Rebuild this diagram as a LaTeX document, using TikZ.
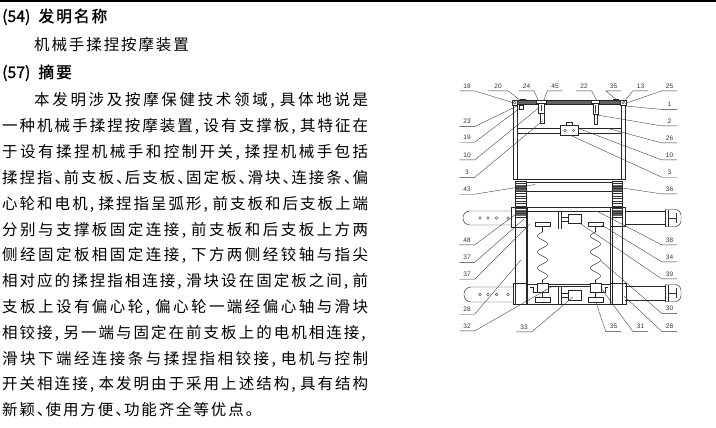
\documentclass[tikz,border=0pt]{standalone}
\usepackage{fontspec}
\newfontfamily\cjk{Noto Sans CJK SC}
\newfontfamily\cjkh[FakeBold=1.2]{Noto Sans CJK SC}
\setsansfont{Liberation Sans}
\def\spreadtxt#1{\spreadaux#1\relax}
\def\spreadaux#1{\ifx\relax#1\unskip\else\spreadone{#1}\expandafter\spreadaux\fi}
\def\spreadone#1{\ifx,#1\makebox[6.8pt][l]{,}\else\ifx、#1\makebox[6.8pt][l]{、}\else\ifx。#1\makebox[6.8pt][l]{。}\else#1\fi\fi\fi\hskip1.9pt plus 1fil\relax}
\newcommand\jl[4]{\node[bd, anchor=base west] (#1) at (#2,#3) {\hbox to 366pt{\spreadtxt{#4}}};}
\tikzset{
  bd/.style={inner sep=0pt, font={\cjk\fontsize{15.5pt}{15.5pt}\selectfont}},
  hd/.style={inner sep=0pt, font={\cjkh\fontsize{15.8pt}{15.8pt}\selectfont}},
  ln/.style={line width=0.45pt, draw=black!85},
  thn/.style={line width=0.3pt, draw=black!80},
  ldr/.style={line width=0.35pt, draw=black!80},
  lbl/.style={font={\sffamily\fontsize{6.5pt}{6.5pt}\selectfont}, text=black!80, inner xsep=0pt, inner ysep=2.4pt, minimum width=15pt, text height=4.6pt, text depth=0pt},
  dark/.style={fill=black!62}
}
\newcommand\labE[4]{\node[lbl] (#1) at (#2) {#3}; \coordinate (#1t) at (#4); \draw[ldr] (#1.south west) -- (#1.south east) -- (#1t);}
\newcommand\labW[4]{\node[lbl] (#1) at (#2) {#3}; \coordinate (#1t) at (#4); \draw[ldr] (#1.south east) -- (#1.south west) -- (#1t);}
\begin{document}
\begin{tikzpicture}[x=1pt,y=-1pt]
\useasboundingbox (0,0) rectangle (716,428);
\draw[line width=1.6pt] (0,1) -- (716,1);
% ---------------- text ----------------
\node[hd, anchor=base west] (h54) at (2,22) {(54)\hspace{8pt}\hbox{\spreadtxt{发明名称}}};
\node[bd, anchor=base west] (title) at (34,51) {\hbox{\spreadtxt{机械手揉捏按摩装置}}};
\node[hd, anchor=base west] (h57) at (2,78) {(57)\hspace{8pt}\hbox{\spreadtxt{摘要}}};
\node[bd, anchor=base west] (b1) at (34,106) {\hbox to 334pt{\spreadtxt{本发明涉及按摩保健技术领域,具体地说是}}};
\jl{b2}{2}{131.8}{一种机械手揉捏按摩装置,设有支撑板,其特征在}
\jl{b3}{2}{157.6}{于设有揉捏机械手和控制开关,揉捏机械手包括}
\jl{b4}{2}{183.4}{揉捏指、前支板、后支板、固定板、滑块、连接条、偏}
\jl{b5}{2}{209.2}{心轮和电机,揉捏指呈弧形,前支板和后支板上端}
\jl{b6}{2}{235}{分别与支撑板固定连接,前支板和后支板上方两}
\jl{b7}{2}{260.8}{侧经固定板相固定连接,下方两侧经铰轴与指尖}
\jl{b8}{2}{286.6}{相对应的揉捏指相连接,滑块设在固定板之间,前}
\jl{b9}{2}{312.4}{支板上设有偏心轮,偏心轮一端经偏心轴与滑块}
\jl{b10}{2}{338.2}{相铰接,另一端与固定在前支板上的电机相连接,}
\jl{b11}{2}{364}{滑块下端经连接条与揉捏指相铰接,电机与控制}
\jl{b12}{2}{389.8}{开关相连接,本发明由于采用上述结构,具有结构}
\node[bd, anchor=base west] (b13) at (2,415.6) {\hbox{\spreadtxt{新颖、使用方便、功能齐全等优点。}}};
% ---------------- upper frame ----------------
\draw[ln] (513,100.5) rectangle (517,179.7);
\draw[ln] (621,100.5) rectangle (625,179.7);
\draw[ln, dark] (517,100.7) rectangle (621,104.7);
\draw[ln, dark] (520,99) rectangle (525,100.7);
\draw[ln, dark] (613,99) rectangle (618,100.7);
\draw[ln, fill=white] (512,100) rectangle (517.5,105.5);
\draw[thn] (514.7,102.7) circle (1.4);
\draw[ln, fill=white] (620.5,100) rectangle (626,105.5);
\draw[thn] (623.2,102.7) circle (1.2);
\draw[ln, fill=white] (519.5,105.5) rectangle (523.5,109.5);
% clamps
\draw[ln, fill=white] (536.7,100.5) rectangle (546.7,103.5);
\draw[ln, fill=white] (538.3,103.5) rectangle (544.5,113);
\draw[thn] (541.2,105) -- (541.2,111.5);
\draw[ln, fill=white] (540.7,113) rectangle (544.3,123);
\draw[ln, fill=white] (591.7,100.5) rectangle (599,103.5);
\draw[ln, fill=white] (593,103.5) rectangle (598,114.5);
\draw[thn] (595.5,105) -- (595.5,113);
\draw[ln, fill=white] (594.3,114.5) rectangle (597,124.5);
% beam
\draw[ln] (517,128) -- (621,128);
\draw[ln] (517,133) -- (621,133);
\draw[ln, fill=white] (566,122.3) rectangle (572.3,125.7);
\draw[ln, fill=white] (560,125.7) rectangle (578.3,135.3);
\draw[thn] (565,130.5) circle (1.3);
\draw[thn] (573.3,130.5) circle (1.3);
\draw[ln] (517,179.7) -- (621,179.7);
% panel
\draw[ln] (526,182) rectangle (612,191);
% stacks
\foreach \xa/\xb in {515/526, 612/622.5}{
  \fill[black!60] (\xa,185) rectangle (\xb,191);
  \fill[black!60] (\xa,210) rectangle (\xb,216);
  \foreach \yy in {183.5,186,...,215} \draw[thn] (\xa,\yy) -- (\xb,\yy);
  \draw[ln] (\xa,181) rectangle (\xb,217);
}
% ---------------- lower frame ----------------
\draw[ln] (526,207.7) -- (612,207.7);
\draw[ln] (527.7,211.7) -- (610.3,211.7);
\draw[ln] (515,217) -- (515,304);
\draw[ln] (526,217) -- (526,304);
\draw[ln] (527.7,211.7) -- (527.7,304);
\draw[ln] (612,217) -- (612,304);
\draw[ln] (622.5,217) -- (622.5,304);
\draw[ln] (610.3,211.7) -- (610.3,304);
\draw[ln] (511.5,207.5) rectangle (527.7,227.5);
\draw[ln] (610.3,207.5) rectangle (625,226);
\draw[ln] (513,283) rectangle (527.7,304);
\draw[ln] (610.3,283) rectangle (626.5,304);
\draw[ln] (513,304) -- (626.5,304);
% upper interior
\draw[ln] (558.7,211.7) -- (558.7,229);
\draw[ln] (561.7,211.7) -- (561.7,229);
\draw[ln, fill=white] (568.3,214.5) rectangle (581.7,223.5);
\draw[ln] (561.7,217.5) rectangle (568.3,221);
\draw[ln, fill=white] (535,222) rectangle (550,226);
\draw[ln, fill=white] (588.3,222) rectangle (603.3,226);
% springs (kneading fingers)
\foreach \cx in {542.5,595.5}{
  \draw[ln] (\cx,226) -- (\cx,232);
  \draw[ln] plot[domain=0:48, samples=97, smooth] ({\cx-5*sin(22.5*\x)},{232+\x});
  \draw[ln] (\cx,280) -- (\cx,283.5);
}
% lower interior
\draw[ln] (527.7,284) -- (610.3,284);
\draw[ln] (548,286.5) -- (590,286.5);
\draw[ln, fill=white] (537,283.5) rectangle (548,292);
\draw[ln, fill=white] (590,283.5) rectangle (601.5,292);
\draw[ln] (542.5,292) -- (542.5,297);
\draw[ln] (595.5,292) -- (595.5,297);
\draw[ln, fill=white] (535,297) rectangle (550,302.5);
\draw[ln, fill=white] (588,297) rectangle (603,302.5);
\draw[ln] (530,287) -- (533,287) -- (533,292) -- (536.5,292);
\draw[ln] (608,287) -- (605,287) -- (605,292) -- (602,292);
\draw[ln] (558.5,286.5) -- (558.5,304);
\draw[ln] (561,286.5) -- (561,304);
\draw[ln, fill=white] (568,290) rectangle (581.5,300);
\draw[ln] (561,293) rectangle (568,297);
% belts
\draw[ln, rounded corners=6.8pt] (511.5,211) -- (463,211) -- (463,225) -- (511.5,225);
\draw[ln, rounded corners=7pt] (513,287) -- (464,287) -- (464,302) -- (513,302);
\foreach \hx in {480,488,496.5,508}{
  \draw[thn] (\hx,218) circle (1.3);
  \draw[thn] (\hx,294.5) circle (1.3);
}
\foreach \ya/\yb/\yc/\yd in {211.5/224.5/209.5/226.5, 286/300/284.5/301.5}{
  \draw[ln] (625,\ya) -- (665,\ya);
  \draw[ln] (625,\yb) -- (665,\yb);
  \draw[ln, rounded corners=6pt] (665,\yc) -- (681,\yc) -- (681,\yd) -- (665,\yd);
  \draw[ln] (665,\yc) -- (665,\yd);
  \draw[ln] (668.5,\yc) -- (668.5,\yd);
  \draw[thn] (668.5,{(\yc+\yd)/2}) -- (676,{(\yc+\yd)/2});
  \draw[thn] (676,{\yc+3.5}) -- (676,{\yd-3.5});
}
% ---------------- labels ----------------
\labE{n18}{467,86}{18}{514,103}
\node[lbl, minimum width=20pt] (n20) at (498,86) {20};
\coordinate (n20t) at (521,101);
\draw[ldr] (n20.south west) -- (n20.south east) -- (n20t);
\labE{n24}{526.5,86}{24}{538.5,101}
\labW{n45}{555,86}{45}{543.5,101}
\labE{n22}{584,86}{22}{597,101}
\labW{n35a}{613.5,86}{35}{617,100}
\labW{n13}{640.5,86}{13}{624,102}
\labW{n25}{669.5,86}{25}{625,103.5}
% left column
\labE{n23}{467,121.7}{23}{517,106}
\labE{n19}{467,137.3}{19}{520,108}
\labE{n10a}{467,155}{10}{538.5,108}
\labE{n3a}{467,172.5}{3}{542.5,121}
\labE{n43}{467,189.3}{43}{535,184.5}
\labE{n48}{467,240}{48}{516,214}
\labE{n37a}{467,257.5}{37}{524,219}
\labE{n37b}{467,274.3}{37}{530,224}
\labE{n28a}{467,309.3}{28}{521,260}
\labE{n32}{467,326}{32}{553,286}
% right column
\labW{n1}{669.5,104.5}{1}{625,106}
\labW{n2}{669.5,121}{2}{597,115}
\labW{n26}{669.5,138}{26}{608,128.5}
\labW{n10b}{669.5,155}{10}{578.5,128.5}
\labW{n3b}{669.5,172.3}{3}{571,135.5}
\labW{n36}{669.5,189}{36}{622.5,188}
\labW{n38}{669.5,240}{38}{598,211.7}
\labW{n34}{669.5,257}{34}{601.7,225}
\labW{n39}{669.5,274}{39}{581,224}
\labW{n30}{669.5,308.5}{30}{601,261}
\labW{n28b}{669.5,326.5}{28}{624,296}
% bottom row
\labE{n33}{524,327}{33}{573,297}
\labW{n35b}{613.5,326.5}{35}{596,302.5}
\labW{n31}{640.5,326.5}{31}{601,288}
\end{tikzpicture}
\end{document}
